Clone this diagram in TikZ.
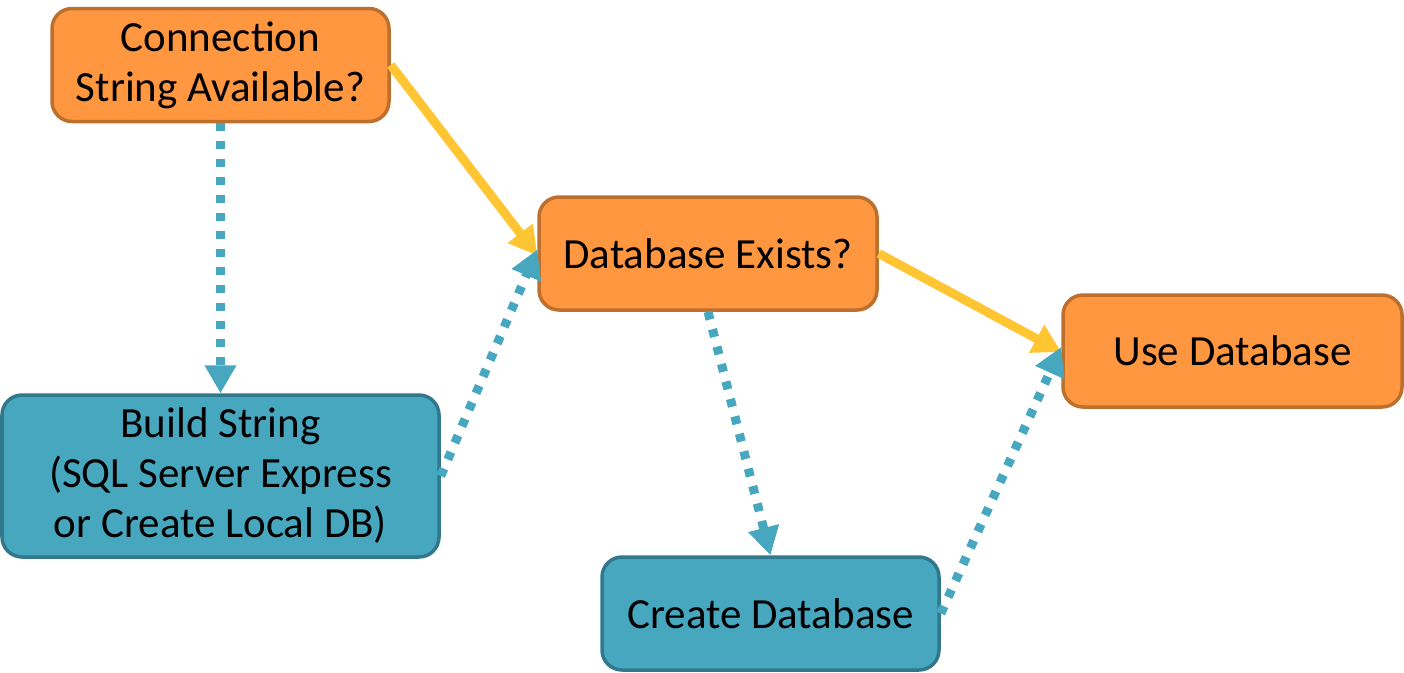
\documentclass[tikz,border=0pt]{standalone}
\usepackage{fontspec}
\setmainfont{Carlito}
\usetikzlibrary{arrows.meta}
\definecolor{orfill}{HTML}{FF9640}
\definecolor{ordraw}{HTML}{BD6F2E}
\definecolor{tlfill}{HTML}{47A7BF}
\definecolor{tldraw}{HTML}{31788C}
\definecolor{ylw}{HTML}{FFC532}
\definecolor{blu}{HTML}{47A7BF}
\tikzset{
  box/.style={rounded corners=20pt, line width=3.5pt, align=center, inner sep=0pt,
    font=\fontsize{43}{50}\selectfont},
  obox/.style={box, fill=orfill, draw=ordraw},
  tbox/.style={box, fill=tlfill, draw=tldraw},
  yes/.style={draw=ylw, line width=9pt, -{Triangle[width=30pt,length=28pt]}},
  no/.style={draw=blu, line width=9pt, dash pattern=on 8pt off 10pt, -{Triangle[width=30pt,length=28pt]}},
}
\begin{document}
\begin{tikzpicture}[x=1pt,y=-1pt]
\useasboundingbox (0,0) rectangle (1404,672);
\node[obox, minimum width=337pt, minimum height=113pt] (A) at (220.5,65) {Connection\\String Available?};
\node[obox, minimum width=338pt, minimum height=113pt] (B) at (708,253.5) {Database Exists?};
\node[obox, minimum width=339pt, minimum height=112pt] (C) at (1232.5,351) {Use Database};
\node[tbox, minimum width=437pt, minimum height=162pt] (D) at (220.5,476) {Build String\\(SQL Server Express\\or Create Local DB)};
\node[tbox, minimum width=337pt, minimum height=113pt] (E) at (770.5,613.5) {Create Database};
\draw[yes] (A.east) -- ([yshift=-2pt]B.west);
\draw[no] (A.south) -- (D.north);
\draw[no] (D.east) -- ([yshift=4pt]B.west);
\draw[no] (B.south) -- (E.north);
\draw[yes] (B.east) -- ([yshift=-1pt]C.west);
\draw[no] (E.east) -- ([yshift=4pt]C.west);
\end{tikzpicture}
\end{document}
